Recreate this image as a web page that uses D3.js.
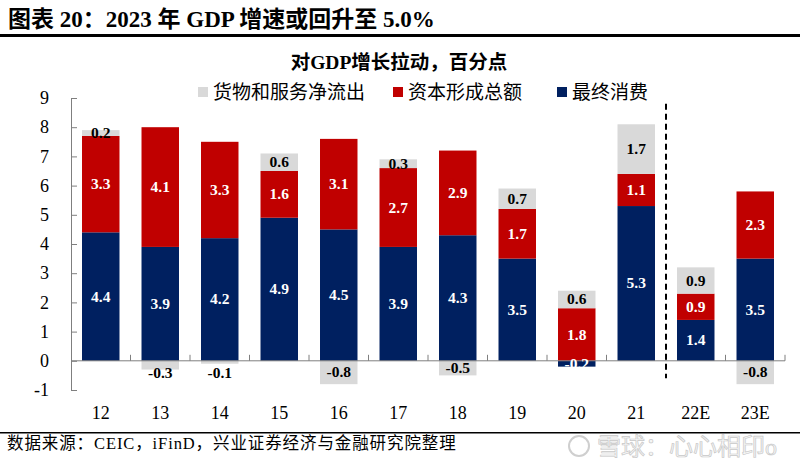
<!DOCTYPE html>
<html><head><meta charset="utf-8">
<script src="https://cdn.jsdelivr.net/npm/d3@7"></script>
<style>
body{margin:0;background:#fff;}
svg{display:block;}
text{font-family:"Liberation Serif","Times New Roman","Noto Sans CJK SC",serif;}
</style></head>
<body>
<svg id="c" width="800" height="473"></svg>
<script>
const categories = ["12","13","14","15","16","17","18","19","20","21","22E","23E"];
const consumption = [4.4,3.9,4.2,4.9,4.5,3.9,4.3,3.5,-0.2,5.3,1.4,3.5];
const capital = [3.3,4.1,3.3,1.6,3.1,2.7,2.9,1.7,1.8,1.1,0.9,2.3];
const netExports = [0.2,-0.3,-0.1,0.6,-0.8,0.3,-0.5,0.7,0.6,1.7,0.9,-0.8];
const yTicks = [-1,0,1,2,3,4,5,6,7,8,9];
const seriesNames = ["货物和服务净流出","资本形成总额","最终消费"];

const colors = {cons:"#002060", cap:"#C00000", net:"#D9D9D9"};
const svg = d3.select("#c");
const fmt1 = v => d3.format(".1f")(v).replace("\u2212","-");
const fmtInt = v => String(v);

// title
svg.append("text").attr("x",8).attr("y",27)
  .attr("font-size",23).attr("font-weight","bold").attr("fill","#000")
  .text("图表 20：2023 年 GDP 增速或回升至 5.0%");
svg.append("rect").attr("x",0).attr("y",34).attr("width",800).attr("height",3).attr("fill","#000");

// subtitle
svg.append("text").attr("x",399).attr("y",69).attr("text-anchor","middle")
  .attr("font-size",19.5).attr("font-weight","bold").text("对GDP增长拉动，百分点");

// legend
const legendItems = [
  {name:seriesNames[0], color:colors.net, x:198},
  {name:seriesNames[1], color:colors.cap, x:393},
  {name:seriesNames[2], color:colors.cons, x:557}
];
const lg = svg.append("g");
legendItems.forEach(d=>{
  lg.append("rect").attr("x",d.x).attr("y",87).attr("width",10).attr("height",10).attr("fill",d.color);
  lg.append("text").attr("x",d.x+15).attr("y",99).attr("font-size",19).text(d.name);
});

// scales
const x = d3.scaleBand().domain(categories).range([71,785]).paddingInner(0.37).paddingOuter(0.185);
const y = d3.scaleLinear().domain([-1,9]).range([390,98]);

// stack
const rows = categories.map((c,i)=>({cat:c, cons:consumption[i], cap:capital[i], net:netExports[i]}));
const stack = d3.stack().keys(["cons","cap","net"]).offset(d3.stackOffsetDiverging);
const series = stack(rows);

const g = svg.append("g");
series.forEach(s=>{
  g.selectAll(null).data(s).enter().append("rect")
    .attr("x",d=>x(d.data.cat))
    .attr("width",x.bandwidth())
    .attr("y",d=>y(Math.max(d[0],d[1])))
    .attr("height",d=>Math.abs(y(d[0])-y(d[1])))
    .attr("fill",colors[s.key]);
});

// axes
const yAxis = d3.axisLeft(y).tickValues(yTicks).tickFormat(fmtInt)
  .tickSizeInner(-6).tickSizeOuter(0).tickPadding(22);
const ya = svg.append("g").attr("transform","translate(71,0)").call(yAxis);
ya.select(".domain").attr("stroke","#7f7f7f");
ya.selectAll(".tick line").attr("stroke","#7f7f7f");
ya.selectAll("text").attr("font-size",18).attr("fill","#000")
  .attr("font-family","Liberation Serif, serif");

// x axis line at 0
const y0 = y(0);
svg.append("line").attr("x1",71).attr("x2",785).attr("y1",y0).attr("y2",y0).attr("stroke","#7f7f7f").attr("stroke-width",1);
const step = x.step();
const bounds = categories.map(c=>x(c)-(step-x.bandwidth())/2).concat([x(categories[categories.length-1])+x.bandwidth()+(step-x.bandwidth())/2]);
bounds.slice(1).forEach(b=>{
  svg.append("line").attr("x1",b).attr("x2",b).attr("y1",y0).attr("y2",y0-6).attr("stroke","#7f7f7f");
});
categories.forEach(c=>{
  svg.append("text").attr("x",x(c)+x.bandwidth()/2).attr("y",419).attr("text-anchor","middle")
    .attr("font-size",18).text(c);
});

// value labels
series.forEach(s=>{
  s.forEach(d=>{
    const v = d.data[s.key];
    const top = y(Math.max(d[0],d[1])), bot = y(Math.min(d[0],d[1]));
    let cy = (top+bot)/2;
    if (s.key==="net" && v<0 && (bot-top)<12) cy = y0+12;
    svg.append("text").attr("x",x(d.data.cat)+x.bandwidth()/2).attr("y",cy+5)
      .attr("text-anchor","middle").attr("font-size",15.5).attr("font-weight","bold")
      .attr("fill", s.key==="net" ? "#000" : "#fff")
      .text(fmt1(v));
  });
});

// dashed separator between 21 and 22E
const xs = (x("21")+x.bandwidth()+x("22E"))/2;
svg.append("line").attr("x1",xs).attr("x2",xs).attr("y1",y(8.8)).attr("y2",y(-0.6))
  .attr("stroke","#000").attr("stroke-width",2).attr("stroke-dasharray","6,4");

// bottom line and source
svg.append("rect").attr("x",0).attr("y",432).attr("width",800).attr("height",1.5).attr("fill","#000");
svg.append("text").attr("x",7).attr("y",449).attr("font-size",16.5).attr("letter-spacing",0.9)
  .text("数据来源：CEIC，iFinD，兴业证券经济与金融研究院整理");

// watermark
const wm = svg.append("g");
wm.append("circle").attr("cx",579).attr("cy",446).attr("r",10).attr("fill","none").attr("stroke","#cfcfcf").attr("stroke-width",2);
wm.append("text").attr("x",597).attr("y",455).attr("font-size",24)
  .attr("font-family","Noto Sans CJK SC, sans-serif")
  .attr("fill","#f6f6f6").attr("stroke","#c8c8c8").attr("stroke-width",0.7)
  .text("雪球：心心相印o");
</script>
</body></html>
